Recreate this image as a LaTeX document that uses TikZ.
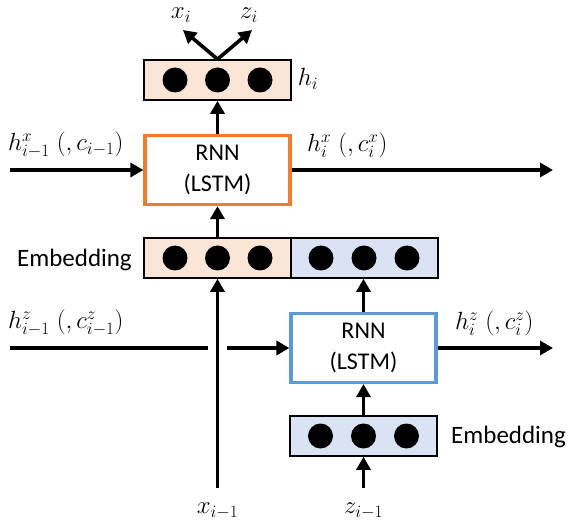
\documentclass[tikz,border=0pt]{standalone}
\usepackage{fontspec}
\setmainfont{Carlito}
\usetikzlibrary{arrows.meta}
\definecolor{peach}{HTML}{FBE5D6}
\definecolor{orng}{HTML}{ED7D31}
\definecolor{lblue}{HTML}{DAE3F3}
\definecolor{mblue}{HTML}{5B9BD5}
\begin{document}
\begin{tikzpicture}[x=1pt,y=-1pt,
  vecbox/.style={draw=black,line width=1.6pt,minimum width=147pt,minimum height=40pt,inner sep=0pt},
  rnnbox/.style={fill=white,line width=3.2pt,minimum width=145pt,minimum height=69pt,inner sep=0pt,align=center,font=\fontsize{24}{31}\selectfont},
  dot/.style={circle,fill=black,minimum size=25pt,inner sep=0pt},
  conn/.style={line width=3.6pt,-{Triangle[length=13pt,width=14pt]}},
  plain/.style={line width=3.6pt},
  lbl/.style={inner sep=0pt,font=\fontsize{25}{29}\selectfont},
  txt/.style={inner sep=0pt,font=\fontsize{25}{30}\selectfont}]
\useasboundingbox (0,0) rectangle (574,532);
% boxes
\node[vecbox,fill=peach] (hbox) at (217.5,80) {};
\node[rnnbox,draw=orng] (rnnx) at (217.5,170) {RNN\\(LSTM)};
\node[vecbox,fill=peach] (embx) at (217.5,258) {};
\node[vecbox,fill=lblue] (embz) at (364.5,258) {};
\node[rnnbox,draw=mblue] (rnnz) at (363.5,348) {RNN\\(LSTM)};
\node[vecbox,fill=lblue] (embzz) at (363.5,436) {};
% dots
\foreach \n/\cx/\cy in {h1/175/80,h2/217.5/80,h3/260/80,
  e1/175/258,e2/217.5/258,e3/260/258,
  f1/321/258,f2/364/258,f3/407/258,
  g1/320.5/436,g2/363.5/436,g3/406.5/436}
  \node[dot] (d\n) at (\cx,\cy) {};
% coordinates
\coordinate (xo) at (183,30);
\coordinate (zo) at (252,30);
\coordinate (hin) at (10,170);
\coordinate (hout) at (553,170);
\coordinate (hzin) at (10,348);
\coordinate (gapa) at (208,348);
\coordinate (gapb) at (227,348);
\coordinate (hzout) at (553,348);
\coordinate (xin) at (217.5,488);
\coordinate (zin) at (363.5,488);
% connectors
\draw[conn] (rnnx.north) -- (hbox.south);
\draw[conn] (hbox.north) -- (xo);
\draw[conn] (hbox.north) -- (zo);
\draw[conn] (hin) -- (rnnx.west);
\draw[conn] (rnnx.east) -- (hout);
\draw[conn] (embx.north) -- (rnnx.south);
\draw[conn] (xin) -- (embx.south);
\draw[plain] (hzin) -- (gapa);
\draw[conn] (gapb) -- (rnnz.west);
\draw[conn] (rnnz.east) -- (hzout);
\draw[conn] (rnnz.north) -- (rnnz.north |- embz.south);
\draw[conn] (zin) -- (embzz.south);
\draw[conn] (embzz.north) -- (rnnz.south);
% labels
\node[lbl] (lxi) at (181,15) {$x_i$};
\node[lbl] (lzi) at (249,15) {$z_i$};
\node[lbl] (lhi) at (308,79) {$h_i$};
\node[lbl,anchor=west] (lhin) at (8,145) {$h^{x}_{i-1}\;(,c_{i-1})$};
\node[lbl,anchor=west] (lhout) at (307,145) {$h^{x}_{i}\;(,c^{x}_{i})$};
\node[lbl,anchor=west] (lhzin) at (8,323) {$h^{z}_{i-1}\;(,c^{z}_{i-1})$};
\node[lbl,anchor=west] (lhzout) at (455,323) {$h^{z}_{i}\;(,c^{z}_{i})$};
\node[txt,anchor=east] (lemb1) at (132,260) {Embedding};
\node[txt,anchor=west] (lemb2) at (451,437) {Embedding};
\node[lbl] (lxin) at (217.5,511) {$x_{i-1}$};
\node[lbl] (lzin) at (363.5,511) {$z_{i-1}$};
\end{tikzpicture}
\end{document}
